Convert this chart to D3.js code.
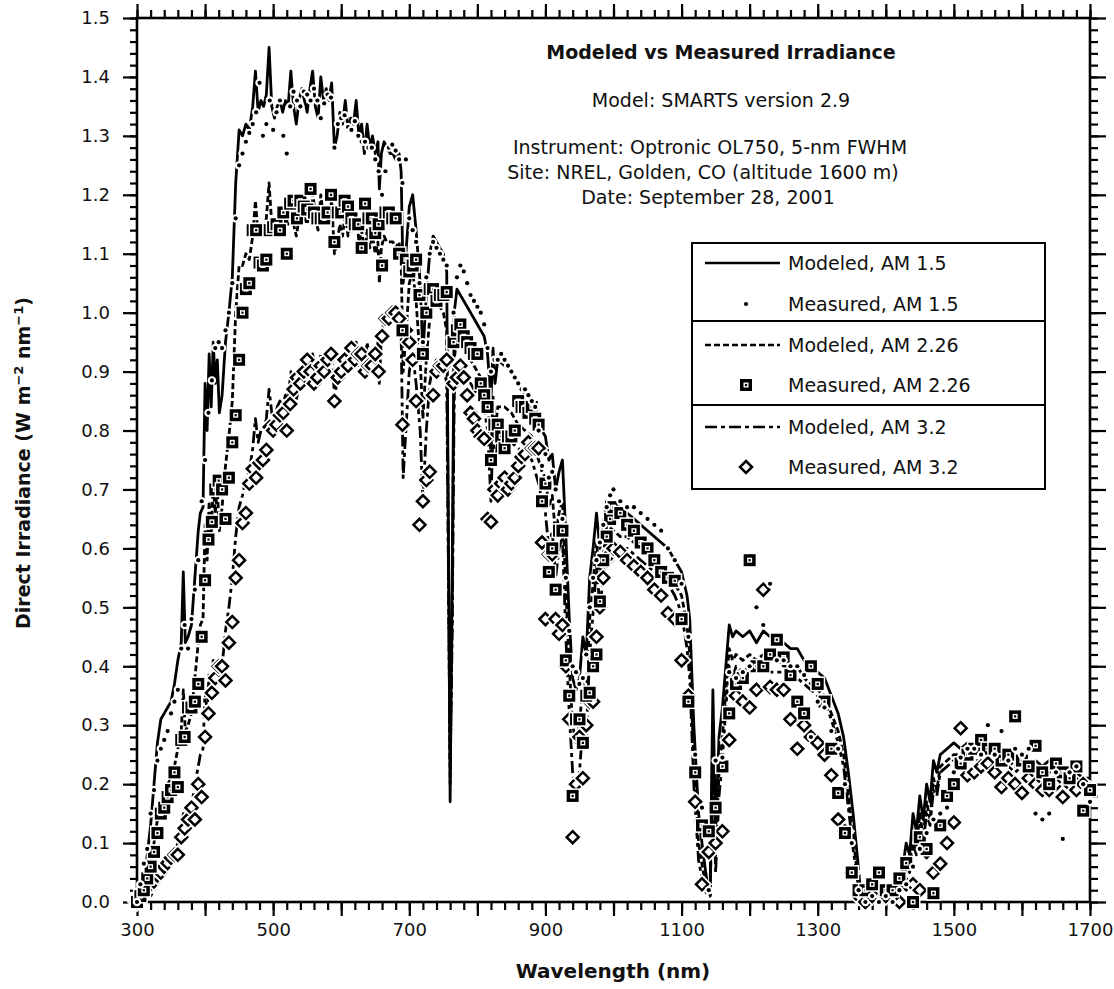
<!DOCTYPE html>
<html><head><meta charset="utf-8">
<script src="https://cdn.jsdelivr.net/npm/d3@7"></script>
<style>
body{margin:0;background:#fff}
text{font-family:"DejaVu Sans",Verdana,sans-serif;fill:#111}
</style>
</head><body>
<svg id="chart" width="1114" height="989"></svg>
<script>
// ---------- DATA ----------
const modeledWavelength = [
300,305,310,315,320,325,330,335,340,345,
350,355,360,365,368,371,375,380,385,390,
393,397,400,403,406,409,412,415,418,421,
425,430,435,440,445,450,455,460,465,470,
474,478,482,486,490,494,498,502,506,510,
514,518,522,526,530,534,538,542,546,550,
554,558,562,566,570,574,578,582,586,590,
594,598,602,606,610,614,618,622,626,630,
634,638,642,646,650,654,656,659,663,667,
672,676,680,685,688,691,695,700,705,710,
716,720,725,730,735,740,745,750,755,760,
763,766,770,775,780,785,790,795,800,805,
810,815,820,823,826,830,840,850,860,870,
880,890,895,900,905,910,915,920,925,930,
935,940,945,950,955,960,965,970,975,980,
985,990,1000,1010,1020,1030,1040,1050,1060,1070,
1080,1090,1100,1108,1112,1118,1125,1132,1138,1142,
1146,1150,1155,1160,1165,1170,1175,1180,1190,1200,
1210,1220,1230,1240,1250,1260,1270,1280,1290,1300,
1310,1320,1330,1338,1345,1352,1358,1362,1370,1380,
1390,1400,1410,1420,1425,1430,1435,1440,1445,1450,
1455,1460,1465,1470,1475,1480,1490,1500,1510,1520,
1530,1540,1550,1560,1570,1580,1590,1600,1610,1620,
1630,1640,1650,1660,1670,1680,1690,1700];

const modeledAM15 = [
0.00,0.01,0.03,0.08,0.13,0.20,0.27,0.31,0.32,0.33,
0.34,0.37,0.41,0.44,0.56,0.44,0.45,0.47,0.55,0.63,
0.66,0.67,0.88,0.80,0.93,0.84,0.95,0.88,0.92,0.83,
0.86,0.95,1.00,1.06,1.22,1.31,1.30,1.32,1.31,1.35,
1.41,1.34,1.36,1.35,1.37,1.45,1.35,1.33,1.35,1.36,
1.34,1.36,1.35,1.41,1.35,1.32,1.36,1.38,1.36,1.34,
1.38,1.41,1.35,1.33,1.40,1.36,1.38,1.36,1.39,1.28,
1.30,1.34,1.32,1.36,1.31,1.33,1.32,1.36,1.30,1.32,
1.27,1.32,1.28,1.30,1.27,1.29,1.21,1.27,1.29,1.28,
1.27,1.27,1.26,1.27,1.24,1.05,1.10,1.18,1.20,1.14,
1.05,0.93,1.03,1.10,1.13,1.12,1.11,1.10,1.07,0.17,
0.55,1.00,1.04,1.03,1.02,1.01,1.00,0.99,0.98,0.97,
0.96,0.93,0.85,0.94,0.88,0.92,0.91,0.90,0.88,0.86,
0.85,0.82,0.80,0.79,0.75,0.76,0.70,0.73,0.75,0.62,
0.48,0.38,0.36,0.38,0.45,0.42,0.55,0.60,0.66,0.60,
0.64,0.68,0.67,0.66,0.66,0.65,0.64,0.63,0.62,0.61,
0.60,0.58,0.56,0.52,0.48,0.30,0.15,0.08,0.03,0.02,
0.36,0.12,0.28,0.33,0.40,0.47,0.45,0.46,0.45,0.46,
0.44,0.46,0.45,0.44,0.44,0.43,0.43,0.41,0.40,0.39,
0.38,0.35,0.32,0.28,0.22,0.15,0.08,0.03,0.01,0.00,
0.01,0.00,0.02,0.03,0.06,0.10,0.08,0.15,0.12,0.18,
0.14,0.20,0.17,0.24,0.22,0.25,0.26,0.27,0.26,0.27,
0.26,0.26,0.25,0.26,0.25,0.25,0.24,0.25,0.24,0.24,
0.23,0.24,0.23,0.23,0.22,0.22,0.21,0.21];

const modeledAM226 = [
0.00,0.00,0.01,0.03,0.06,0.10,0.14,0.17,0.18,0.20,
0.21,0.23,0.26,0.29,0.36,0.29,0.30,0.32,0.38,0.44,
0.47,0.48,0.64,0.58,0.68,0.62,0.71,0.66,0.70,0.63,
0.67,0.74,0.79,0.85,1.00,1.08,1.08,1.10,1.09,1.13,
1.19,1.13,1.15,1.14,1.16,1.22,1.15,1.13,1.15,1.16,
1.14,1.16,1.15,1.20,1.15,1.13,1.16,1.18,1.16,1.15,
1.18,1.21,1.16,1.14,1.20,1.16,1.18,1.16,1.19,1.10,
1.12,1.15,1.13,1.17,1.13,1.15,1.14,1.17,1.12,1.14,
1.10,1.14,1.11,1.13,1.10,1.12,1.05,1.11,1.13,1.12,
1.12,1.12,1.11,1.12,1.09,0.90,0.96,1.05,1.07,1.02,
0.92,0.82,0.92,0.99,1.02,1.02,1.01,1.00,0.97,0.20,
0.50,0.92,0.96,0.95,0.94,0.93,0.92,0.91,0.90,0.89,
0.88,0.85,0.76,0.86,0.80,0.84,0.84,0.83,0.81,0.80,
0.79,0.75,0.73,0.72,0.67,0.69,0.62,0.66,0.68,0.53,
0.40,0.30,0.27,0.30,0.37,0.35,0.48,0.54,0.61,0.55,
0.59,0.64,0.63,0.62,0.62,0.61,0.60,0.59,0.58,0.57,
0.56,0.54,0.52,0.47,0.42,0.24,0.10,0.05,0.02,0.01,
0.30,0.08,0.22,0.28,0.36,0.43,0.41,0.42,0.41,0.42,
0.41,0.42,0.41,0.41,0.40,0.40,0.40,0.38,0.37,0.36,
0.35,0.32,0.29,0.25,0.18,0.11,0.05,0.02,0.00,0.00,
0.00,0.00,0.01,0.02,0.04,0.07,0.06,0.12,0.09,0.15,
0.11,0.17,0.14,0.21,0.19,0.23,0.24,0.25,0.25,0.25,
0.25,0.25,0.24,0.25,0.24,0.24,0.23,0.24,0.23,0.23,
0.22,0.23,0.22,0.22,0.21,0.21,0.20,0.20];

const modeledAM32 = [
0.00,0.00,0.00,0.01,0.01,0.02,0.03,0.04,0.05,0.06,
0.07,0.08,0.10,0.11,0.15,0.12,0.14,0.16,0.20,0.23,
0.25,0.26,0.36,0.32,0.39,0.35,0.41,0.38,0.41,0.37,
0.40,0.46,0.50,0.55,0.62,0.67,0.69,0.72,0.73,0.77,
0.82,0.78,0.80,0.80,0.82,0.87,0.83,0.82,0.84,0.85,
0.84,0.86,0.85,0.90,0.86,0.85,0.88,0.90,0.88,0.88,
0.90,0.93,0.90,0.88,0.93,0.90,0.92,0.91,0.94,0.86,
0.88,0.91,0.90,0.93,0.90,0.92,0.92,0.95,0.91,0.93,
0.90,0.95,0.92,0.94,0.92,0.95,0.88,0.96,0.99,0.98,
0.99,1.00,0.99,1.00,0.97,0.72,0.80,0.90,0.93,0.88,
0.80,0.68,0.80,0.88,0.91,0.92,0.92,0.91,0.88,0.24,
0.45,0.86,0.90,0.90,0.89,0.88,0.88,0.87,0.86,0.85,
0.84,0.80,0.68,0.80,0.74,0.78,0.79,0.78,0.77,0.76,
0.75,0.71,0.68,0.66,0.60,0.63,0.55,0.60,0.62,0.45,
0.32,0.22,0.18,0.22,0.30,0.28,0.42,0.49,0.57,0.50,
0.55,0.61,0.61,0.60,0.60,0.59,0.58,0.57,0.56,0.55,
0.54,0.52,0.49,0.43,0.38,0.20,0.07,0.03,0.01,0.01,
0.25,0.05,0.18,0.24,0.33,0.40,0.38,0.40,0.39,0.40,
0.39,0.40,0.39,0.39,0.39,0.38,0.38,0.37,0.36,0.35,
0.34,0.31,0.27,0.23,0.16,0.09,0.04,0.01,0.00,0.00,
0.00,0.00,0.00,0.01,0.03,0.06,0.05,0.10,0.08,0.13,
0.10,0.15,0.13,0.19,0.18,0.22,0.23,0.24,0.24,0.24,
0.24,0.24,0.23,0.24,0.23,0.23,0.22,0.23,0.22,0.22,
0.21,0.22,0.21,0.21,0.20,0.20,0.19,0.19];

const measuredWavelength = [
300,305,310,315,320,325,330,335,340,345,
350,355,360,365,370,375,380,385,390,395,
400,405,410,415,420,425,430,435,440,445,
450,455,460,465,470,475,480,485,490,495,
500,505,510,515,520,525,530,535,540,545,
550,555,560,565,570,575,580,585,590,595,
600,605,610,615,620,625,630,635,640,645,
650,655,660,665,670,675,680,685,690,695,
700,705,710,715,720,725,730,735,740,745,
750,755,760,765,770,775,780,785,790,795,
800,805,810,815,820,825,830,835,840,845,
850,855,860,865,870,875,880,885,890,895,
900,905,910,915,920,925,930,935,940,945,
950,955,960,965,970,975,980,985,990,995,
1000,1010,1020,1030,1040,1050,1060,1070,1080,1090,
1100,1110,1120,1130,1140,1150,1160,1170,1180,1190,
1200,1210,1220,1230,1240,1250,1260,1270,1280,1290,
1300,1310,1320,1330,1340,1350,1360,1370,1380,1390,
1400,1410,1420,1430,1440,1450,1460,1470,1480,1490,
1500,1510,1520,1530,1540,1550,1560,1570,1580,1590,
1600,1610,1620,1630,1640,1650,1660,1670,1680,1690,
1700];

const measuredAM15 = [
0.00,0.03,0.065,0.09,0.15,0.19,0.24,0.26,0.275,0.29,
0.32,0.34,0.36,0.43,0.47,0.43,0.48,0.53,0.58,0.68,
0.75,0.83,0.885,0.94,0.95,0.94,0.97,1.00,1.05,1.16,
1.25,1.27,1.29,1.305,1.32,1.34,1.39,1.30,1.32,1.36,
1.31,1.34,1.36,1.30,1.27,1.35,1.375,1.36,1.35,1.375,
1.37,1.36,1.38,1.36,1.33,1.355,1.37,1.365,1.28,1.32,
1.33,1.335,1.315,1.31,1.325,1.30,1.29,1.29,1.28,1.28,
1.26,1.24,1.20,1.24,1.28,1.285,1.275,1.26,1.22,1.26,
1.16,1.14,1.12,1.05,0.95,1.06,1.10,1.12,1.11,1.10,
1.09,1.08,null,1.00,1.06,1.08,1.07,1.05,1.03,1.02,
1.01,1.00,0.98,0.94,0.90,0.92,0.92,0.93,0.92,0.91,
0.90,0.89,0.88,0.87,0.87,0.86,0.85,0.84,0.80,0.74,
0.76,0.72,0.73,0.70,0.68,0.65,0.55,0.46,0.40,0.39,
0.37,0.38,0.42,0.50,0.55,0.58,0.61,0.64,0.67,0.69,
0.70,0.68,0.67,0.67,0.66,0.65,0.64,0.63,0.60,0.58,
0.54,0.45,0.25,0.16,0.02,0.24,0.245,0.39,0.38,0.39,
0.40,0.50,0.47,0.54,0.41,0.41,0.40,0.40,0.385,0.28,
0.34,0.33,0.29,0.26,0.20,0.10,0.02,0.00,0.01,0.00,
0.01,0.00,0.02,0.03,0.06,0.09,0.117,0.14,0.15,0.16,
0.22,0.245,0.26,0.26,0.25,0.30,0.25,0.29,0.24,0.26,
0.25,0.26,0.15,0.14,0.15,0.22,0.107,0.22,0.23,0.20,
0.17];

const measuredAM226 = [
0.00,0.01,0.02,0.04,0.06,0.085,0.117,0.15,0.16,0.178,
0.19,0.22,0.195,0.275,0.28,0.33,0.33,0.34,0.37,0.45,
0.546,0.615,0.645,0.70,0.715,0.70,0.65,0.72,0.78,0.826,
0.92,1.00,1.04,1.05,1.14,1.14,1.085,1.08,1.09,1.14,
1.145,1.15,1.14,1.17,1.10,1.185,1.19,1.16,1.19,1.18,
1.175,1.21,1.17,1.16,1.16,1.16,1.17,1.20,1.12,1.17,
1.17,1.19,1.18,1.16,1.15,1.15,1.11,1.185,1.16,1.16,
1.135,1.15,1.08,1.17,1.17,1.16,1.16,1.10,0.97,1.09,
1.07,1.08,1.09,1.03,0.93,1.00,1.04,1.04,1.02,1.03,
1.03,1.035,null,0.95,0.97,0.98,0.96,0.95,0.94,0.93,
0.93,0.88,0.86,0.84,0.75,0.81,0.81,0.79,0.77,0.79,
0.79,0.80,0.85,0.84,0.84,0.83,0.84,0.82,0.81,0.68,
0.71,0.56,0.60,0.53,0.63,0.63,0.41,0.35,0.18,0.31,
0.31,0.27,0.35,0.355,0.40,0.42,0.51,0.58,0.62,0.65,
0.67,0.66,0.64,0.63,0.61,0.60,0.58,0.56,0.55,0.545,
0.48,0.34,0.22,0.13,0.12,0.16,0.23,0.32,0.37,0.38,
0.58,0.40,0.40,0.42,0.445,0.415,0.385,0.34,0.32,0.40,
0.37,0.34,0.26,0.185,0.117,0.05,0.02,0.02,0.03,0.05,
0.02,0.02,0.04,0.066,0.00,0.11,0.09,0.015,0.13,0.18,
0.20,0.235,0.25,0.26,0.275,0.26,0.26,0.24,0.25,0.315,
0.24,0.23,0.265,0.22,0.20,0.235,0.22,0.21,0.23,0.155,
0.19];

const measuredAM32 = [
0.00,0.01,0.02,0.025,0.03,0.035,0.045,0.05,0.06,0.066,
0.075,0.08,0.08,0.11,0.125,0.14,0.16,0.14,0.20,0.178,
0.28,0.32,0.355,0.38,0.40,0.40,0.376,0.44,0.475,0.55,
0.58,0.643,0.66,0.71,0.735,0.72,0.745,0.75,0.767,0.806,
0.80,0.81,0.826,0.83,0.80,0.845,0.87,0.89,0.88,0.90,
0.92,0.90,0.88,0.89,0.91,0.90,0.92,0.93,0.85,0.89,
0.90,0.92,0.91,0.94,0.92,0.93,0.93,0.90,0.91,0.91,
0.93,0.90,0.96,0.99,0.99,1.00,1.00,0.99,0.81,0.97,
0.95,0.92,0.85,0.64,0.68,0.716,0.73,0.86,0.90,0.91,
0.91,0.92,null,0.88,0.89,0.91,0.89,0.86,0.83,0.82,
0.80,0.79,0.786,0.65,0.645,0.70,0.69,0.71,0.72,0.70,
0.71,0.72,0.74,0.755,0.76,0.78,0.77,0.77,0.77,0.61,
0.48,0.59,0.59,0.48,0.455,0.47,0.40,0.31,0.11,0.20,
0.28,0.21,0.30,0.34,0.34,0.45,0.50,0.55,0.58,0.59,
0.60,0.594,0.58,0.57,0.56,0.55,0.53,0.52,0.49,0.48,
0.41,0.35,0.17,0.03,0.085,0.10,0.12,0.275,0.35,0.34,
0.33,0.36,0.53,0.365,0.36,0.36,0.31,0.26,0.30,0.28,
0.27,0.25,0.215,0.14,0.12,0.05,0.01,0.00,0.01,0.02,
0.01,0.02,0.00,0.03,0.03,0.02,0.085,0.05,0.065,0.10,
0.135,0.295,0.215,0.22,0.23,0.235,0.22,0.195,0.21,0.20,
0.185,0.21,0.20,0.19,0.19,0.20,0.178,0.20,0.19,0.20,
0.19];

const xTickLabels = [300, 500, 700, 900, 1100, 1300, 1500, 1700];
const yTickLabels = [0.0,0.1,0.2,0.3,0.4,0.5,0.6,0.7,0.8,0.9,1.0,1.1,1.2,1.3,1.4,1.5];
const legendLabels = ["Modeled, AM 1.5","Measured, AM 1.5","Modeled, AM 2.26","Measured, AM 2.26","Modeled, AM 3.2","Measured, AM 3.2"];
const titleLines = ["Modeled vs Measured Irradiance","Model: SMARTS version 2.9","Instrument: Optronic OL750, 5-nm FWHM","Site: NREL, Golden, CO (altitude 1600 m)","Date: September 28, 2001"];
const xAxisTitle = "Wavelength (nm)";

// ---------- CHART ----------
const svg = d3.select("#chart");
const M = {left:137, right:1090, top:18, bottom:902};
const x = d3.scaleLinear().domain([300,1700]).range([M.left, M.right]);
const y = d3.scaleLinear().domain([0,1.5]).range([M.bottom, M.top]);

function pairs(wl, vals){ return wl.map((w,i)=>[w, vals[i]]); }

function styleAxis(g){
  g.select(".domain").remove();
  g.selectAll(".tick line").attr("stroke","#000").attr("stroke-width",2.2);
  g.selectAll(".tick text").attr("font-size",18).style("font-family","'DejaVu Sans',Verdana,sans-serif").attr("fill","#111");
}
const xMinor = d3.range(300,1701,20), xMajor = d3.range(300,1701,100);
const yMinor = d3.range(0,1.5001,0.02), yMajor = yTickLabels;

const gAx = svg.append("g");
gAx.append("g").attr("transform",`translate(0,${M.bottom})`)
  .call(d3.axisBottom(x).tickValues(xMinor).tickSize(8).tickFormat("")).call(styleAxis);
gAx.append("g").attr("transform",`translate(0,${M.bottom})`)
  .call(d3.axisBottom(x).tickValues(xMajor).tickSize(14).tickPadding(7)
    .tickFormat(d => xTickLabels.includes(d) ? d : "")).call(styleAxis);
gAx.append("g").attr("transform",`translate(0,${M.top})`)
  .call(d3.axisTop(x).tickValues(xMinor).tickSize(8).tickFormat("")).call(styleAxis);
gAx.append("g").attr("transform",`translate(0,${M.top})`)
  .call(d3.axisTop(x).tickValues(xMajor).tickSize(14).tickFormat("")).call(styleAxis);
gAx.append("g").attr("transform",`translate(${M.left},0)`)
  .call(d3.axisLeft(y).tickValues(yMinor).tickSize(7).tickFormat("")).call(styleAxis);
gAx.append("g").attr("transform",`translate(${M.left},0)`)
  .call(d3.axisLeft(y).tickValues(yMajor).tickSize(14).tickPadding(13).tickFormat(d3.format(".1f"))).call(styleAxis);
gAx.append("g").attr("transform",`translate(${M.right},0)`)
  .call(d3.axisRight(y).tickValues(yMinor).tickSize(8).tickFormat("")).call(styleAxis);
gAx.append("g").attr("transform",`translate(${M.right},0)`)
  .call(d3.axisRight(y).tickValues(yMajor).tickSize(16).tickFormat("")).call(styleAxis);

svg.append("rect").attr("x",M.left).attr("y",M.top)
  .attr("width",M.right-M.left).attr("height",M.bottom-M.top)
  .attr("fill","none").attr("stroke","#000").attr("stroke-width",2.6);

const plot = svg.append("g");
const line = d3.line().x(d=>x(d[0])).y(d=>y(d[1])).defined(d=>d[1]!=null);
const lineSeries = [
  {vals: modeledAM32, dash: "12,4,4,4"},
  {vals: modeledAM226, dash: "6,3"},
  {vals: modeledAM15, dash: null}
];
lineSeries.forEach(s=>{
  plot.append("path").datum(pairs(modeledWavelength, s.vals))
    .attr("d", line).attr("fill","none").attr("stroke","#000")
    .attr("stroke-width",2.8).attr("stroke-linejoin","round")
    .attr("stroke-dasharray", s.dash);
});

function diamond(g, cx, cy){
  const r = 6;
  const p = `M${cx},${cy-r}L${cx+r},${cy}L${cx},${cy+r}L${cx-r},${cy}Z`;
  g.append("path").attr("d",p).attr("fill","#fff").attr("stroke","#fff").attr("stroke-width",6);
  g.append("path").attr("d",p).attr("fill","#fff").attr("stroke","#000").attr("stroke-width",2.5);
}
function square(g, cx, cy){
  g.append("rect").attr("x",cx-7.5).attr("y",cy-7.5).attr("width",15).attr("height",15).attr("fill","#fff");
  g.append("rect").attr("x",cx-6).attr("y",cy-6).attr("width",12).attr("height",12).attr("fill","#000");
  g.append("rect").attr("x",cx-2.5).attr("y",cy-2.5).attr("width",5).attr("height",5).attr("fill","#fff");
  g.append("rect").attr("x",cx-1.1).attr("y",cy-1.1).attr("width",2.2).attr("height",2.2).attr("fill","#000");
}
function dot(g, cx, cy){
  g.append("circle").attr("cx",cx).attr("cy",cy).attr("r",4.2).attr("fill","#fff");
  g.append("circle").attr("cx",cx).attr("cy",cy).attr("r",2.1).attr("fill","#000");
}

const markerSeries = [
  {vals: measuredAM32, draw: diamond},
  {vals: measuredAM226, draw: square},
  {vals: measuredAM15, draw: dot}
];
markerSeries.forEach(s=>{
  const g = plot.append("g");
  pairs(measuredWavelength, s.vals).forEach(d=>{
    if(d[1]!=null) s.draw(g, x(d[0]), y(d[1]));
  });
});

// title block
const tb = svg.append("g");
const tPos = [[721,59,true],[721,107,false],[710,154,false],[703,179,false],[708,204,false]];
titleLines.forEach((t,i)=>{
  tb.append("text").attr("x",tPos[i][0]).attr("y",tPos[i][1])
    .attr("text-anchor","middle").attr("font-size", 19)
    .attr("font-weight", tPos[i][2]?"bold":"normal").text(t);
});

// legend
const lg = svg.append("g");
lg.append("rect").attr("x",692).attr("y",243).attr("width",353).attr("height",246)
  .attr("fill","#fff").attr("stroke","#000").attr("stroke-width",2);
[321,405].forEach(yy=>lg.append("line").attr("x1",692).attr("x2",1045).attr("y1",yy).attr("y2",yy)
  .attr("stroke","#000").attr("stroke-width",2));
const rowsY = [263,304,345,385,427,467];
const legendSym = [
  {type:"line", dash:null},{type:"marker", draw:dot},
  {type:"line", dash:"6,3"},{type:"marker", draw:square},
  {type:"line", dash:"12,4,4,4"},{type:"marker", draw:diamond}
];
legendLabels.forEach((lab,i)=>{
  const yy = rowsY[i];
  const s = legendSym[i];
  if(s.type==="line"){
    lg.append("line").attr("x1",705).attr("x2",780).attr("y1",yy).attr("y2",yy)
      .attr("stroke","#000").attr("stroke-width",2.4).attr("stroke-dasharray",s.dash);
  } else {
    s.draw(lg, 746, yy);
  }
  lg.append("text").attr("x",788).attr("y",yy).attr("dy","0.36em").attr("font-size",19).text(lab);
});

// axis titles
svg.append("text").attr("x",613).attr("y",978).attr("text-anchor","middle")
  .attr("font-size",20).attr("font-weight","bold").text(xAxisTitle);
const yt = svg.append("text").attr("transform","translate(30,463) rotate(-90)")
  .attr("text-anchor","middle").attr("font-size",19).attr("font-weight","bold");
yt.append("tspan").text("Direct Irradiance (W m");
yt.append("tspan").attr("dy",-7).attr("font-size",13).text("−2");
yt.append("tspan").attr("dy",7).text(" nm");
yt.append("tspan").attr("dy",-7).attr("font-size",13).text("−1");
yt.append("tspan").attr("dy",7).text(")");
</script>
</body></html>
